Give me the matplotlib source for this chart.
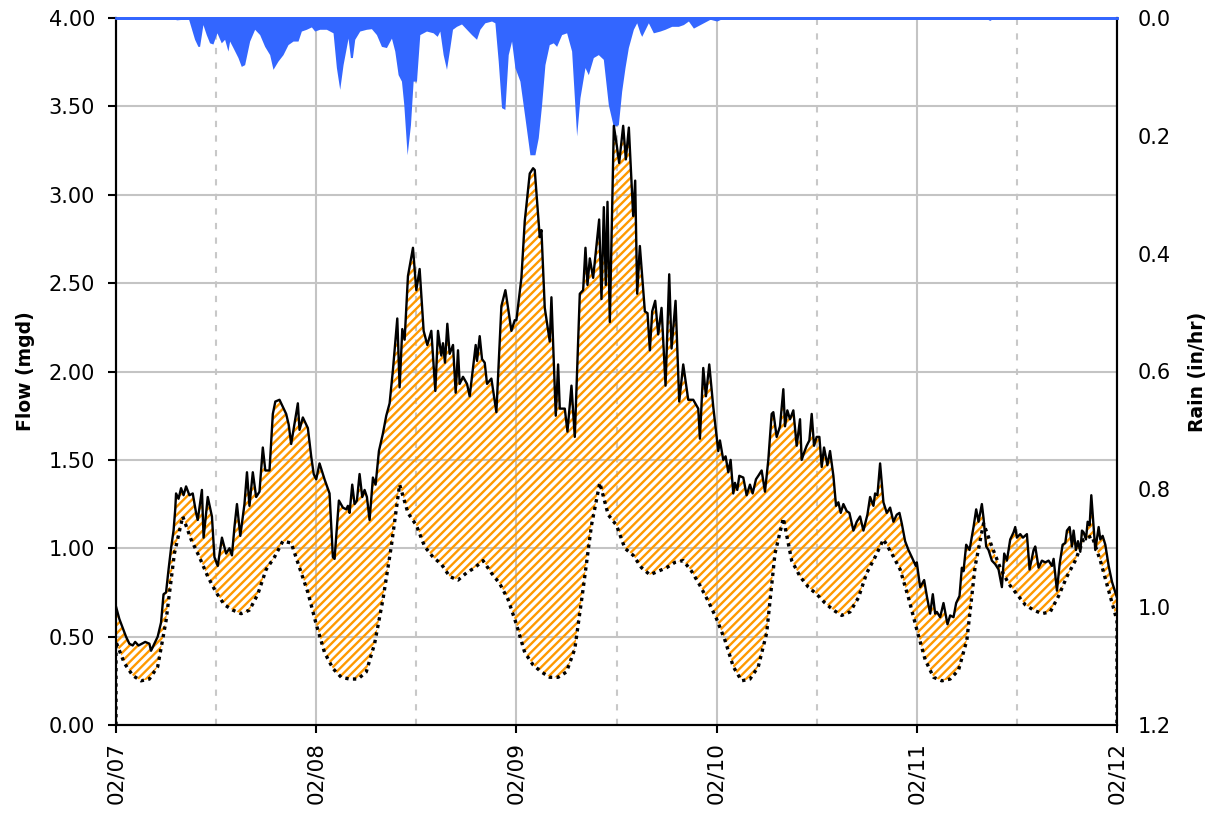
import numpy as np
import matplotlib
matplotlib.use("Agg")
import matplotlib.pyplot as plt
from matplotlib.ticker import FormatStrFormatter

plt.rcParams['font.family'] = ['DejaVu Sans']
plt.rcParams['font.size'] = 15
plt.rcParams['hatch.linewidth'] = 1.7

# x axis: hours from 02/07 00:00
day_ticks = [0, 24, 48, 72, 96, 120]
day_labels = ['02/07', '02/08', '02/09', '02/10', '02/11', '02/12']
noon_ticks = [12, 36, 60, 84, 108]

# measured flow (mgd)
flow_hours = [
    0.0, 0.4, 0.8, 1.2, 1.6, 2.0, 2.3, 2.7, 3.1, 3.5, 4.0, 4.2, 4.6, 5.0, 5.4, 5.7, 6.0, 6.3, 6.6, 6.9,
    7.1, 7.2, 7.5, 7.8, 8.1, 8.4, 8.8, 9.2, 9.6, 9.8, 10.3, 10.5, 11.0, 11.5, 11.8, 12.2, 12.7, 13.2, 13.6, 13.9,
    14.2, 14.5, 14.9, 15.4, 15.7, 16.0, 16.4, 16.8, 17.2, 17.6, 17.9, 18.4, 18.8, 19.1, 19.6, 20.0, 20.4, 20.7, 21.0, 21.8,
    22.0, 22.4, 23.0, 23.4, 23.7,
    24.0, 24.4, 25.0, 25.6, 26.0, 26.2, 26.72, 27.2, 27.6, 27.8, 28.0, 28.32, 28.6, 28.88, 29.2, 29.52, 29.8, 30.08, 30.4, 30.8,
    31.12, 31.52, 32.0, 32.4, 32.8, 33.2, 33.72, 34.0, 34.32, 34.6, 35.0, 35.6, 36.0, 36.4, 36.88, 37.32, 37.8, 38.28, 38.6, 39.0,
    39.2, 39.44, 39.72, 40.0, 40.4, 40.72, 41.0, 41.2, 41.6, 42.08, 42.4, 43.12, 43.28, 43.6, 43.88, 44.2, 44.48, 45.0, 45.6, 46.2,
    46.68, 47.0, 47.4, 47.8,
    48.0, 48.6, 49.0, 49.6, 50.0, 50.2, 50.8, 51.0, 51.4, 52.0, 52.2, 52.72, 53.0, 53.2, 53.8, 54.12, 54.6, 55.0, 55.6, 56.0,
    56.28, 56.52, 56.8, 57.2, 57.92, 58.2, 58.48, 58.72, 58.92, 59.2, 59.68, 60.0, 60.32, 60.8, 61.12, 61.48, 62.0, 62.24, 62.48, 62.8,
    63.4, 63.72, 64.0, 64.28, 64.64, 65.0, 65.4, 65.88, 66.32, 66.6, 67.08, 67.52, 68.0, 68.6, 69.2, 69.8, 70.0, 70.4, 70.72, 71.12,
    71.6,
    72.0, 72.2, 72.4, 72.8, 73.08, 73.4, 73.68, 74.0, 74.2, 74.48, 74.72, 75.2, 75.6, 76.0, 76.32, 76.72, 77.0, 77.4, 77.8, 78.2,
    78.6, 78.8, 79.2, 79.6, 80.0, 80.2, 80.48, 80.8, 81.2, 81.6, 82.0, 82.2, 82.48, 82.8, 83.12, 83.4, 83.68, 84.0, 84.32, 84.6,
    84.88, 85.28, 85.6, 86.0, 86.32, 86.6, 86.88, 87.2, 87.6, 87.92, 88.4, 88.8, 89.2, 89.6, 90.08, 90.4, 90.8, 91.0, 91.28, 91.6,
    92.0, 92.4, 92.8, 93.2, 93.6, 93.92, 94.2, 94.6, 95.0, 95.4, 95.88,
    96.0, 96.4, 96.88, 97.2, 97.6, 97.92, 98.2, 98.4, 98.8, 99.2, 99.68, 100.0, 100.4, 100.72, 101.12, 101.4, 101.6, 101.92, 102.32, 102.8,
    103.12, 103.4, 103.8, 104.0, 104.32, 104.6, 105.0, 105.4, 105.8, 106.2, 106.48, 106.8, 107.2, 107.6, 107.8, 108.0, 108.4, 108.72, 109.2, 109.52,
    110.0, 110.2, 110.6, 111.0, 111.4, 111.8, 112.2, 112.4, 112.8, 113.12, 113.48, 113.8, 114.0, 114.32, 114.6, 114.8, 115.08, 115.32, 115.6, 115.8,
    116.0, 116.28, 116.48, 116.72, 116.92, 117.2, 117.4, 117.8, 118.0, 118.28, 118.6, 119.0, 119.4, 120.0,
]
flow_vals = [
    0.67, 0.60, 0.55, 0.50, 0.46, 0.45, 0.47, 0.45, 0.46, 0.47, 0.46, 0.42, 0.46, 0.50, 0.58, 0.74, 0.75, 0.88, 1.00, 1.10,
    1.22, 1.31, 1.28, 1.34, 1.30, 1.35, 1.30, 1.31, 1.20, 1.16, 1.33, 1.06, 1.29, 1.18, 0.95, 0.90, 1.06, 0.97, 1.00, 0.96,
    1.12, 1.25, 1.07, 1.25, 1.43, 1.24, 1.43, 1.29, 1.32, 1.57, 1.44, 1.44, 1.76, 1.83, 1.84, 1.80, 1.76, 1.70, 1.59, 1.82,
    1.67, 1.74, 1.68, 1.52, 1.42,
    1.39, 1.48, 1.39, 1.31, 0.95, 0.94, 1.27, 1.23, 1.22, 1.24, 1.20, 1.36, 1.25, 1.27, 1.42, 1.29, 1.33, 1.29, 1.16, 1.40,
    1.36, 1.55, 1.65, 1.75, 1.82, 2.01, 2.30, 1.91, 2.24, 2.18, 2.54, 2.70, 2.46, 2.58, 2.23, 2.15, 2.23, 1.89, 2.23, 2.09,
    2.16, 2.05, 2.27, 2.10, 2.15, 1.88, 2.12, 1.93, 1.97, 1.93, 1.86, 2.15, 2.06, 2.20, 2.07, 2.05, 1.93, 1.96, 1.77, 2.37,
    2.46, 2.36, 2.23, 2.29,
    2.29, 2.53, 2.85, 3.12, 3.15, 3.14, 2.76, 2.80, 2.36, 2.17, 2.42, 1.75, 2.04, 1.79, 1.79, 1.66, 1.92, 1.63, 2.44, 2.46,
    2.70, 2.49, 2.64, 2.53, 2.86, 2.41, 2.93, 2.49, 2.96, 2.28, 3.39, 3.29, 3.18, 3.39, 3.20, 3.38, 2.88, 3.08, 2.44, 2.71,
    2.34, 2.33, 2.12, 2.34, 2.40, 2.21, 2.36, 1.92, 2.55, 2.13, 2.40, 1.83, 2.04, 1.84, 1.84, 1.79, 1.62, 2.02, 1.86, 2.04,
    1.80,
    1.63, 1.55, 1.61, 1.50, 1.52, 1.43, 1.50, 1.31, 1.37, 1.33, 1.41, 1.40, 1.30, 1.36, 1.31, 1.39, 1.41, 1.44, 1.32, 1.50,
    1.76, 1.77, 1.63, 1.69, 1.90, 1.69, 1.78, 1.73, 1.78, 1.58, 1.73, 1.50, 1.54, 1.58, 1.61, 1.76, 1.58, 1.63, 1.63, 1.46,
    1.57, 1.47, 1.55, 1.41, 1.24, 1.26, 1.20, 1.25, 1.21, 1.20, 1.10, 1.15, 1.18, 1.10, 1.19, 1.29, 1.24, 1.31, 1.30, 1.48,
    1.26, 1.20, 1.23, 1.15, 1.19, 1.20, 1.14, 1.04, 0.99, 0.95, 0.90,
    0.92, 0.78, 0.82, 0.73, 0.63, 0.74, 0.63, 0.64, 0.61, 0.69, 0.57, 0.62, 0.61, 0.69, 0.73, 0.89, 0.87, 1.02, 0.99, 1.12,
    1.22, 1.15, 1.25, 1.17, 1.01, 0.99, 0.93, 0.91, 0.88, 0.78, 0.97, 0.93, 1.05, 1.09, 1.12, 1.06, 1.08, 1.06, 1.08, 0.88,
    0.99, 1.01, 0.89, 0.93, 0.92, 0.93, 0.90, 0.94, 0.76, 0.91, 1.02, 1.03, 1.10, 1.12, 1.01, 1.10, 0.99, 1.04, 0.98, 1.10,
    1.09, 1.05, 1.15, 1.13, 1.30, 1.12, 0.99, 1.12, 1.05, 1.07, 1.02, 0.90, 0.81, 0.72,
]

# base flow (mgd), hourly
base_vals = [
    0.47, 0.35, 0.28, 0.25, 0.26, 0.33, 0.59, 0.97, 1.18, 1.05, 0.95, 0.84, 0.75, 0.68, 0.65, 0.63, 0.65, 0.74, 0.88, 0.95,
    1.04, 1.03, 0.89, 0.75,
    0.57, 0.41, 0.32, 0.27, 0.26, 0.26, 0.30, 0.46, 0.71, 1.01, 1.36, 1.20, 1.13, 1.01, 0.95, 0.91, 0.84, 0.82, 0.86, 0.89,
    0.93, 0.86, 0.80, 0.71,
    0.57, 0.41, 0.34, 0.30, 0.27, 0.27, 0.30, 0.43, 0.77, 1.13, 1.37, 1.19, 1.13, 1.00, 0.96, 0.89, 0.85, 0.87, 0.89, 0.92,
    0.93, 0.87, 0.79, 0.70,
    0.60, 0.48, 0.33, 0.25, 0.26, 0.33, 0.52, 0.97, 1.17, 0.93, 0.84, 0.78, 0.74, 0.69, 0.65, 0.62, 0.64, 0.72, 0.86, 0.95,
    1.05, 0.97, 0.88, 0.72,
    0.54, 0.37, 0.27, 0.25, 0.26, 0.31, 0.48, 0.90, 1.14, 1.01, 0.89, 0.80, 0.74, 0.68, 0.65, 0.63, 0.64, 0.73, 0.84, 0.93,
    1.05, 1.07, 0.93, 0.76, 0.59,
]

# rainfall intensity (in/hr)
rain_hours = [
    0.0, 6.9, 7.3, 8.1, 8.7, 9.48, 9.88, 10.08, 10.48, 10.88, 11.28, 11.68, 12.16, 12.68, 13.08, 13.48, 13.68, 14.08, 14.68, 15.08,
    15.48, 16.08, 16.68, 17.28, 17.88, 18.48, 18.88, 19.48, 20.08, 20.68, 21.28, 21.88, 22.28, 22.88, 23.48, 23.88, 24.48, 25.28, 26.08, 26.48,
    26.88, 27.28, 27.88, 28.16, 28.4, 28.68, 29.28, 30.08, 30.68, 31.28, 31.88, 32.48, 33.08, 33.48, 33.88, 34.28, 34.56, 34.96, 35.36, 35.68,
    36.08, 36.48, 37.28, 38.08, 38.56, 38.88, 39.28, 39.68, 40.08, 40.4, 40.88, 41.48, 42.08, 42.68, 43.28, 43.68, 44.28, 45.08, 45.48, 45.88,
    46.28, 46.68, 47.08, 47.48, 47.88, 48.48, 49.08, 49.68, 50.28, 50.68, 51.08, 51.48, 52.0, 52.48, 52.88, 53.48, 54.08, 54.68, 55.28, 55.68,
    56.28, 56.68, 57.28, 57.88, 58.48, 59.08, 59.68, 60.28, 60.68, 61.08, 61.48, 62.08, 62.48, 62.88, 63.08, 63.88, 64.48, 65.28, 65.88, 66.68,
    67.48, 68.08, 68.68, 69.28, 70.08, 71.28, 72.08, 72.88, 73.3, 104.2, 104.8, 105.4, 120.0,
]
rain_vals = [
    0.0, 0.0, 0.004, 0.003, 0.0, 0.037, 0.049, 0.049, 0.012, 0.029, 0.043, 0.045, 0.026, 0.043, 0.037, 0.057, 0.040, 0.051, 0.068, 0.083,
    0.080, 0.040, 0.020, 0.029, 0.049, 0.063, 0.088, 0.074, 0.063, 0.046, 0.040, 0.040, 0.023, 0.020, 0.016, 0.023, 0.020, 0.020, 0.026, 0.085,
    0.122, 0.080, 0.035, 0.068, 0.068, 0.037, 0.023, 0.020, 0.019, 0.029, 0.049, 0.051, 0.035, 0.057, 0.097, 0.108, 0.148, 0.233, 0.182, 0.108,
    0.108, 0.029, 0.023, 0.026, 0.032, 0.023, 0.063, 0.088, 0.051, 0.020, 0.015, 0.011, 0.020, 0.029, 0.037, 0.020, 0.009, 0.006, 0.009, 0.074,
    0.153, 0.156, 0.063, 0.040, 0.085, 0.108, 0.170, 0.233, 0.233, 0.204, 0.148, 0.080, 0.046, 0.043, 0.049, 0.029, 0.026, 0.057, 0.201, 0.136,
    0.085, 0.097, 0.068, 0.063, 0.071, 0.148, 0.185, 0.182, 0.125, 0.085, 0.051, 0.020, 0.009, 0.026, 0.032, 0.009, 0.026, 0.023, 0.020, 0.015,
    0.015, 0.012, 0.006, 0.018, 0.012, 0.003, 0.006, 0.001, 0.0, 0.0, 0.005, 0.0, 0.0,
]

flow_x = np.array(flow_hours)
flow_y = np.array(flow_vals)
base_x = np.concatenate([[0], np.arange(len(base_vals)), [len(base_vals) - 1]])
base_y = np.concatenate([[0], base_vals, [0]])

fig = plt.figure(figsize=(12.17, 8.15), dpi=100)
ax = fig.add_axes([116 / 1217, 1 - 725 / 815, 1001 / 1217, 707 / 815])
ax_r = ax.twinx()

# rain hangs from the top, drawn inside the flow axes so it sits above the grid
ax.fill(np.concatenate([rain_hours, [120, 0]]), np.concatenate([rain_vals, [0, 0]]),
        transform=ax_r.transData, facecolor='#3366ff', edgecolor='none', zorder=1)

# hatched area between flow and base flow
ax.fill(np.concatenate([flow_x, base_x[::-1]]), np.concatenate([flow_y, base_y[::-1]]),
        facecolor='none', edgecolor='#ff9900', linewidth=0, hatch='////', zorder=2)
ax.plot(base_x, base_y, color='black', lw=2.4, linestyle=(0, (1.0, 1.3)), zorder=3)
ax.plot(flow_x, flow_y, color='black', lw=1.7, zorder=4)

ax.set_xlim(0, 120)
ax.set_ylim(0, 4)
ax_r.set_ylim(1.2, 0)

ax.set_axisbelow(True)
ax.set_xticks(day_ticks)
ax.set_xticklabels(day_labels, rotation=90, fontsize=15.5)
ax.set_xticks(noon_ticks, minor=True)
ax.set_yticks(np.arange(0, 4.01, 0.5))
ax.yaxis.set_major_formatter(FormatStrFormatter('%.2f'))
ax.grid(which='major', color='#c4c4c4', lw=1.5)
ax.grid(which='minor', axis='x', color='#c8c8c8', lw=1.5, linestyle=(0, (3, 4)))
ax.tick_params(which='major', direction='out', length=6, width=1.5, pad=9)
ax.tick_params(axis='x', which='major', pad=6)
ax.tick_params(which='minor', length=0)

ax_r.set_yticks(np.arange(0, 1.21, 0.2))
ax_r.yaxis.set_major_formatter(FormatStrFormatter('%.1f'))
ax_r.tick_params(axis='y', length=0, pad=15)

for a in (ax, ax_r):
    a.spines['top'].set_color('#3366ff')
    a.spines['top'].set_linewidth(2)
    for s in ('left', 'right', 'bottom'):
        a.spines[s].set_linewidth(1.5)

ax.set_ylabel('Flow (mgd)', fontweight='bold', fontsize=13.5, labelpad=10)
ax_r.set_ylabel('Rain (in/hr)', fontweight='bold', fontsize=13.5, labelpad=12)

fig.savefig('out.png', dpi=100)
